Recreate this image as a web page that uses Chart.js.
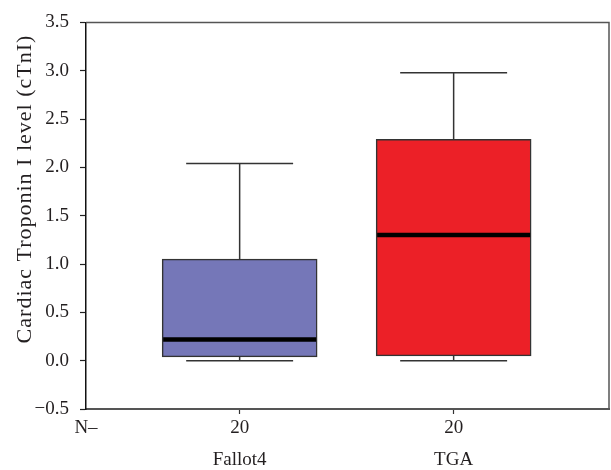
<!DOCTYPE html>
<html>
<head>
<meta charset="utf-8">
<script src="https://cdn.jsdelivr.net/npm/chart.js@4.4.1/dist/chart.umd.min.js"></script>
<style>
  html, body { margin: 0; padding: 0; background: #fff; }
  #wrap { width: 611px; height: 470px; position: relative; }
</style>
</head>
<body>
<div id="wrap"><canvas id="c" width="611" height="470"></canvas></div>
<script>
// ---- data ----
const categories = ['Fallot4', 'TGA'];
const counts = ['20', '20'];
const whiskerLow = [0.0, 0.0];
const q1 = [0.04, 0.05];
const median = [0.22, 1.30];
const q3 = [1.05, 2.29];
const whiskerHigh = [2.04, 2.98];
const yTickValues = [-0.5, 0.0, 0.5, 1.0, 1.5, 2.0, 2.5, 3.0, 3.5];
const boxColors = ['#7577B8', '#EC2027'];
const nLabel = 'N–';
const yTitle = 'Cardiac Troponin I level (cTnI)';

const X_MIN = 0.282, X_MAX = 2.726;
const FONT = '"Liberation Serif", "DejaVu Serif", serif';
const TEXT = '#231f20';

const boxPlotPlugin = {
  id: 'boxParts',
  afterDatasetsDraw(chart) {
    const ctx = chart.ctx;
    const xs = chart.scales.x, ys = chart.scales.y;
    const meta = chart.getDatasetMeta(0);
    ctx.save();
    categories.forEach((c, i) => {
      const xc = xs.getPixelForValue(i + 1);
      const bw = meta.data[i].width;
      const capHalf = bw * 0.345;
      ctx.strokeStyle = '#333';
      ctx.lineWidth = 1.5;
      ctx.beginPath();
      ctx.moveTo(xc, ys.getPixelForValue(whiskerHigh[i]));
      ctx.lineTo(xc, ys.getPixelForValue(q3[i]));
      ctx.moveTo(xc, ys.getPixelForValue(whiskerLow[i]));
      ctx.lineTo(xc, ys.getPixelForValue(q1[i]));
      ctx.moveTo(xc - capHalf, ys.getPixelForValue(whiskerHigh[i]));
      ctx.lineTo(xc + capHalf, ys.getPixelForValue(whiskerHigh[i]));
      ctx.moveTo(xc - capHalf, ys.getPixelForValue(whiskerLow[i]));
      ctx.lineTo(xc + capHalf, ys.getPixelForValue(whiskerLow[i]));
      ctx.stroke();
      ctx.strokeStyle = '#000';
      ctx.lineWidth = 4.5;
      ctx.beginPath();
      ctx.moveTo(xc - bw / 2 + 1, ys.getPixelForValue(median[i]));
      ctx.lineTo(xc + bw / 2 - 1, ys.getPixelForValue(median[i]));
      ctx.stroke();
    });
    const a = chart.chartArea;
    ctx.strokeStyle = '#555';
    ctx.lineWidth = 1.5;
    ctx.beginPath();
    ctx.moveTo(a.left, a.top);
    ctx.lineTo(a.right, a.top);
    ctx.lineTo(a.right, a.bottom);
    ctx.stroke();
    // y-axis title
    ctx.fillStyle = TEXT;
    ctx.font = '22px ' + FONT;
    if ('letterSpacing' in ctx) ctx.letterSpacing = '1px';
    ctx.textAlign = 'center';
    ctx.textBaseline = 'middle';
    ctx.translate(25, 189);
    ctx.rotate(-Math.PI / 2);
    ctx.fillText(yTitle, 0, 0);
    ctx.restore();
  }
};

new Chart(document.getElementById('c'), {
  type: 'bar',
  data: {
    datasets: [{
      data: categories.map((c, i) => ({ x: i + 1, y: [q1[i], q3[i]] })),
      backgroundColor: boxColors,
      borderColor: '#333',
      borderWidth: 1.5,
      borderSkipped: false,
      barThickness: 155
    }]
  },
  plugins: [boxPlotPlugin],
  options: {
    responsive: false,
    animation: false,
    layout: { padding: { top: 20, right: 2, left: 0, bottom: 0 } },
    plugins: { legend: { display: false }, tooltip: { enabled: false } },
    scales: {
      x: {
        type: 'linear',
        offset: false,
        min: X_MIN,
        max: X_MAX,
        afterBuildTicks(scale) {
          scale.ticks = [{ value: X_MIN }, { value: 1 }, { value: 2 }];
        },
        afterFit(scale) { scale.height = 61; },
        ticks: {
          autoSkip: false,
          maxRotation: 0,
          color: TEXT,
          padding: -2,
          font: { family: FONT, size: 19, lineHeight: 1.7 },
          callback(v) {
            if (v === 1 || v === 2) return [counts[v - 1], categories[v - 1]];
            return [nLabel, ''];
          }
        },
        grid: {
          offset: false,
          drawOnChartArea: false,
          drawTicks: true,
          tickLength: 5,
          tickColor: (ctx) => (ctx.index === 0 ? 'rgba(0,0,0,0)' : '#333'),
          tickWidth: 1.2
        },
        border: { display: true, color: '#555', width: 2 }
      },
      y: {
        min: -0.5,
        max: 3.5,
        afterBuildTicks(scale) {
          scale.ticks = yTickValues.map(v => ({ value: v }));
        },
        afterFit(scale) { scale.width = 86; },
        ticks: {
          color: TEXT,
          padding: 11,
          font: { family: FONT, size: 19 },
          callback(v) {
            const s = Math.abs(v).toFixed(1);
            return v < 0 ? '\u2212' + s : s;
          }
        },
        grid: {
          drawOnChartArea: false,
          drawTicks: true,
          tickLength: 6,
          tickColor: '#222',
          tickWidth: 1.2
        },
        border: { display: true, color: '#111', width: 1.5 },
        title: { display: false }
      }
    }
  }
});
</script>
</body>
</html>
